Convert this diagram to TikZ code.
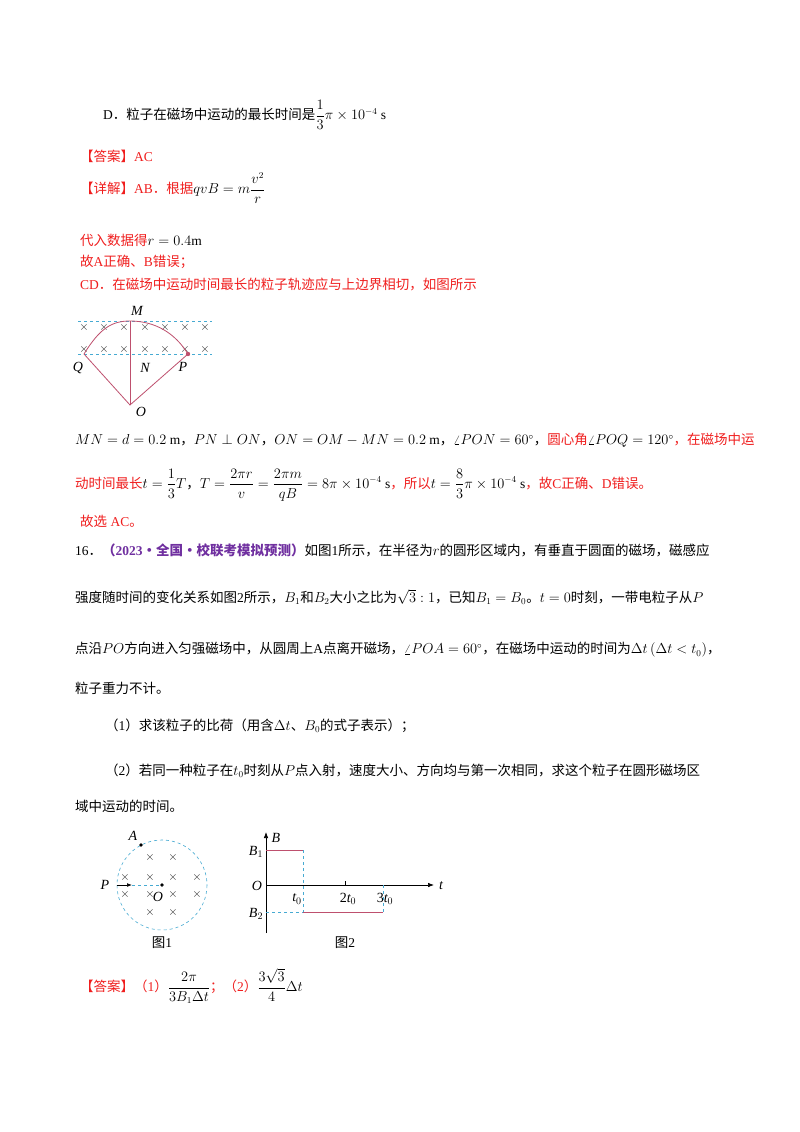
\documentclass[tikz,border=0pt]{standalone}
\usepackage{amsmath}
\usepackage{fontspec}
\setmainfont{Liberation Serif}
\newfontfamily\cjk{Noto Sans CJK SC}
\newcommand{\zh}[1]{{\cjk #1}}
\definecolor{rd}{RGB}{240,30,30}
\definecolor{pu}{RGB}{112,48,160}
\definecolor{bl}{RGB}{70,170,210}
\definecolor{arcc}{RGB}{190,80,110}
\usetikzlibrary{arrows.meta}
\begin{document}
\begin{tikzpicture}[x=1pt,y=-1pt,font=\fontsize{13.5}{16}\selectfont,
  tl/.style={anchor=west,inner sep=0pt},
  lab/.style={inner sep=0pt,font=\fontsize{14}{16}\selectfont\itshape},
  cr/.style={inner sep=0pt,text=black!85,font=\fontsize{12}{12}\selectfont},
  bd/.style={bl,dashed,line width=0.6pt},
  rl/.style={arcc,line width=0.8pt}]
\useasboundingbox[fill=white] (0,0) rectangle (800,1132);
\node[tl] (l1) at (103,115) {D\zh{．粒子在磁场中运动的最长时间是}$\dfrac{1}{3}\pi\times10^{-4}$ s};
\node[tl,text=rd] (l2) at (80,156) {\zh{【答案】}AC};
\node[tl,text=rd] (l3) at (80,188) {\zh{【详解】}AB\zh{．根据}\textcolor{black}{$qvB=m\dfrac{v^2}{r}$}};
\node[tl,text=rd] (l4) at (80,240) {\zh{代入数据得}\textcolor{black}{$r=0.4\mathrm{m}$}};
\node[tl,text=rd] (l5) at (80,262) {\zh{故}A\zh{正确、}B\zh{错误；}};
\node[tl,text=rd] (l6) at (80,284) {CD\zh{．在磁场中运动时间最长的粒子轨迹应与上边界相切，如图所示}};
% figure 1 (top)
\coordinate (dl1) at (78,321); \coordinate (dr1) at (212,321);
\coordinate (dl2) at (78,354); \coordinate (dr2) at (212,354);
\draw[bd] (dl1) -- (dr1); \draw[bd] (dl2) -- (dr2);
\foreach \x in {84,104,124,145,165,185,205}{\node[cr] at (\x,327) {$\times$}; \node[cr] at (\x,349) {$\times$};}
\coordinate (M) at (130,321); \coordinate (O) at (130,405);
\coordinate (Q) at (84,354); \coordinate (P) at (188,354);
\draw[rl] (M) -- (O); \draw[rl] (Q) -- (O) -- (P);
\draw[rl] (Q) .. controls (100,328) and (112,321) .. (M) .. controls (155,321) and (175,333) .. (P);
\fill[arcc] (P) circle (2.2pt);
\node[lab] (Ml) at (137,311) {M};
\node[lab] (Nl) at (145,368) {N};
\node[lab] (Pl) at (183,367) {P};
\node[lab] (Ql) at (78,368) {Q};
\node[lab] (Ol) at (141,412) {O};
\node[tl] (l7) at (75,440) {$MN=d=0.2$ m\zh{，}$PN\perp ON$\zh{，}$ON=OM-MN=0.2$ m\zh{，}$\angle PON=60^\circ$\zh{，\textcolor{rd}{圆心角}}$\angle POQ=120^\circ$\textcolor{rd}{\zh{，在磁场中运}}};
\node[tl,text=rd] (l8) at (75,485) {\zh{动时间最长}\textcolor{black}{$t=\dfrac13T$\zh{，}$T=\dfrac{2\pi r}{v}=\dfrac{2\pi m}{qB}=8\pi\times10^{-4}$ s}\zh{，所以}\textcolor{black}{$t=\dfrac83\pi\times10^{-4}$ s}\zh{，故}C\zh{正确、}D\zh{错误。}};
\node[tl,text=rd] (l9) at (80,521) {\zh{故选} AC\zh{。}};
\node[tl] (l10) at (75,550) {16\zh{．}\textcolor{pu}{\bfseries\zh{（}2023\zh{·全国·校联考模拟预测）}}\zh{如图}1\zh{所示，在半径为}$r$\zh{的圆形区域内，有垂直于圆面的磁场，磁感应}};
\node[tl] (l11) at (75,597) {\zh{强度随时间的变化关系如图}2\zh{所示，}$B_1$\zh{和}$B_2$\zh{大小之比为}$\sqrt3:1$\zh{，已知}$B_1=B_0$\zh{。}$t=0$\zh{时刻，一带电粒子从}$P$};
\node[tl] (l12) at (75,650) {\zh{点沿}$PO$\zh{方向进入匀强磁场中，从圆周上}A\zh{点离开磁场，}$\angle POA=60^\circ$\zh{，在磁场中运动的时间为}$\Delta t\left(\Delta t<t_0\right)$\zh{，}};
\node[tl] (l13) at (75,688) {\zh{粒子重力不计。}};
\node[tl] (l14) at (105,726) {\zh{（}1\zh{）求该粒子的比荷（用含}$\Delta t$\zh{、}$B_0$\zh{的式子表示）；}};
\node[tl] (l15) at (105,771) {\zh{（}2\zh{）若同一种粒子在}$t_0$\zh{时刻从}$P$\zh{点入射，速度大小、方向均与第一次相同，求这个粒子在圆形磁场区}};
\node[tl] (l16) at (75,806) {\zh{域中运动的时间。}};
% figure 1
\coordinate (C) at (162,885);
\draw[bd] (C) circle (45);
\fill (C) circle (1.8pt);
\fill (141,845) circle (1.8pt);
\node[lab] (Al) at (133,836) {A};
\node[lab] (P2) at (105,885) {P};
\node[lab] (O2) at (158,897) {O};
\coordinate (pin) at (117,885); \coordinate (pa) at (132,885);
\draw[-{Latex[length=5pt]},line width=0.7pt] (pin) -- (pa);
\draw[bd] (pa) -- (C);
\foreach \x/\y in {150/857,173/857,125/877,150/877,173/877,197/877,125/894,150/894,173/894,197/894,150/912,173/912}{\node[cr] at (\x,\y) {$\times$};}
\node (f1) at (162,943) {\zh{图}1};
% figure 2
\coordinate (o2) at (266,885);
\coordinate (yb) at (266,933); \coordinate (yt) at (266,832);
\coordinate (xe) at (434,885);
\draw[-{Latex[length=6pt]},line width=0.7pt] (yb) -- (yt);
\draw[-{Latex[length=6pt]},line width=0.7pt] (o2) -- (xe);
\node[lab] (Bl) at (276,838) {B};
\node[lab] (tl2) at (441,886) {t};
\node[lab] (Ol2) at (257,886) {O};
\node[lab] (B1) at (256,852) {B$_1$};
\node[lab] (B2) at (256,914) {B$_2$};
\node[lab] (t0) at (297,899) {t$_0$};
\node[lab] (t2) at (348,899) {\upshape 2\itshape t$_0$};
\node[lab] (t3) at (385,899) {\upshape 3\itshape t$_0$};
\draw[line width=0.6pt] (345,885) -- (345,881);
\coordinate (a1) at (266,850); \coordinate (a2) at (303,850);
\coordinate (a3) at (303,912); \coordinate (a4) at (383,912);
\coordinate (a5) at (383,885); \coordinate (a6) at (266,912);
\draw[rl,line width=0.6pt] (a1) -- (a2);
\draw[rl,line width=0.6pt] (a3) -- (a4);
\draw[bd] (a2) -- (a3); \draw[bd] (a5) -- (a4); \draw[bd] (a6) -- (a3);
\node (f2) at (345,943) {\zh{图}2};
\node[tl,text=rd] (l17) at (80,986) {\zh{【答案】（}1\zh{）}\textcolor{black}{$\dfrac{2\pi}{3B_1\Delta t}$}\zh{；（}2\zh{）}\textcolor{black}{$\dfrac{3\sqrt3}{4}\Delta t$}};
\end{tikzpicture}
\end{document}
